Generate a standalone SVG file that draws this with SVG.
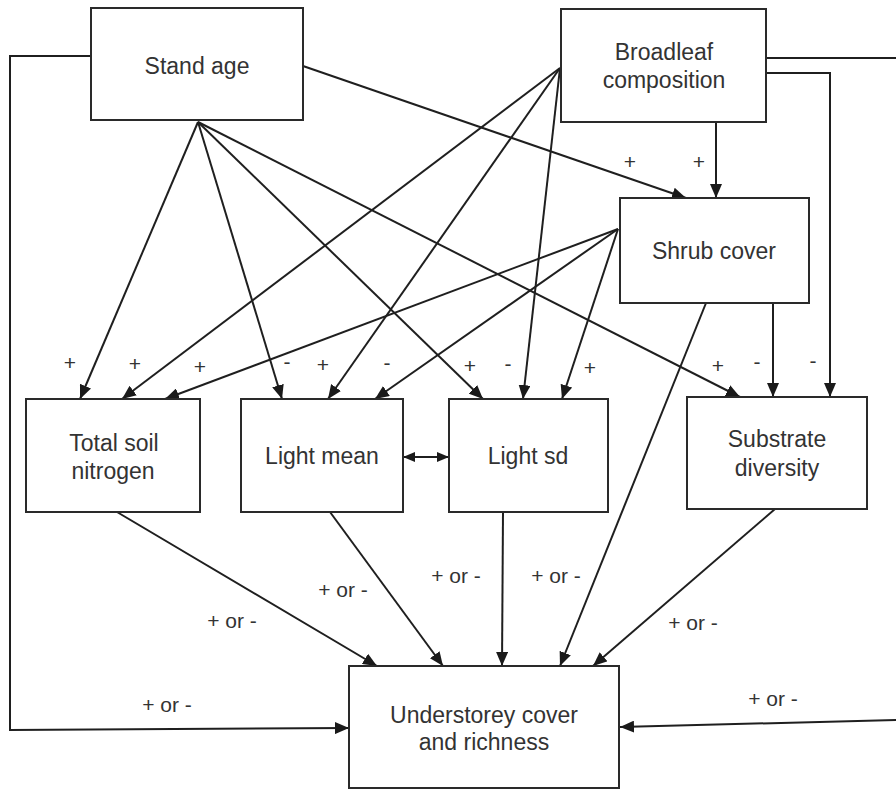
<svg xmlns="http://www.w3.org/2000/svg" width="896" height="790" viewBox="0 0 896 790">
<defs>
<marker id="ah" markerUnits="userSpaceOnUse" markerWidth="14" markerHeight="12" refX="14" refY="6" orient="auto"><path d="M0,0 L14,6 L0,12 z" fill="#1a1a1a"/></marker>
<marker id="ah2" markerUnits="userSpaceOnUse" markerWidth="12" markerHeight="10" refX="12" refY="5" orient="auto-start-reverse"><path d="M0,0 L12,5 L0,10 z" fill="#1a1a1a"/></marker>
<style>
.box{fill:#fff;stroke:#2a2a2a;stroke-width:2}
.lbl{font-family:"Liberation Sans",Arial,sans-serif;font-size:23px;fill:#333;text-anchor:middle}
.el{font-family:"Liberation Sans",Arial,sans-serif;font-size:21px;fill:#333;text-anchor:middle}
.c{fill:none;stroke:#1f1f1f;stroke-width:2}
.a{marker-end:url(#ah)}
</style>
</defs>
<rect width="896" height="790" fill="#fff"/>
<g id="connectors">
<line class="c a" x1="198" y1="122" x2="80" y2="399"/>
<line class="c a" x1="198" y1="122" x2="282" y2="399"/>
<line class="c a" x1="198" y1="122" x2="483" y2="399"/>
<line class="c a" x1="198" y1="122" x2="740" y2="397"/>
<line class="c a" x1="303" y1="66" x2="686" y2="198"/>
<line class="c a" x1="560" y1="68" x2="122" y2="399"/>
<line class="c a" x1="560" y1="68" x2="328" y2="399"/>
<line class="c a" x1="560" y1="68" x2="523" y2="399"/>
<line class="c a" x1="716" y1="122" x2="716" y2="198"/>
<polyline class="c a" points="766,73 830,73 830,397"/>
<line class="c" x1="766" y1="58" x2="897" y2="58"/>
<line class="c a" x1="897" y1="720" x2="620" y2="727"/>
<line class="c a" x1="618" y1="229" x2="165" y2="399"/>
<line class="c a" x1="618" y1="229" x2="375" y2="399"/>
<line class="c a" x1="618" y1="229" x2="562" y2="399"/>
<line class="c a" x1="773" y1="303" x2="773" y2="397"/>
<line class="c a" x1="706" y1="303" x2="560" y2="666"/>
<polyline class="c a" points="91,56 10,56 10,730 349,728"/>
<line class="c a" x1="117" y1="512" x2="377" y2="666"/>
<line class="c a" x1="330" y1="512" x2="443" y2="666"/>
<line class="c a" x1="503" y1="512" x2="502" y2="666"/>
<line class="c a" x1="775" y1="509" x2="593" y2="666"/>
<line class="c" x1="403" y1="457" x2="449" y2="457" marker-start="url(#ah2)" marker-end="url(#ah2)"/>
</g>
<g id="edge-labels">
<text class="el" x="630" y="169">+</text>
<text class="el" x="699" y="169">+</text>
<text class="el" x="70" y="370">+</text>
<text class="el" x="135" y="371">+</text>
<text class="el" x="200" y="374">+</text>
<text class="el" x="287" y="369">-</text>
<text class="el" x="323" y="372">+</text>
<text class="el" x="387" y="370">-</text>
<text class="el" x="470" y="373">+</text>
<text class="el" x="508" y="371">-</text>
<text class="el" x="590" y="375">+</text>
<text class="el" x="718" y="373">+</text>
<text class="el" x="757" y="369">-</text>
<text class="el" x="813" y="368">-</text>
<text class="el" x="343" y="597">+ or -</text>
<text class="el" x="232" y="628">+ or -</text>
<text class="el" x="167" y="712">+ or -</text>
<text class="el" x="456" y="583">+ or -</text>
<text class="el" x="556" y="583">+ or -</text>
<text class="el" x="693" y="630">+ or -</text>
<text class="el" x="773" y="706">+ or -</text>
</g>
<g id="stand-age"><rect class="box" x="91" y="8" width="212" height="112"/><text class="lbl" x="197" y="74">Stand age</text></g>
<g id="broadleaf"><rect class="box" x="561" y="9" width="205" height="113"/><text class="lbl" x="664" y="60">Broadleaf</text><text class="lbl" x="664" y="88">composition</text></g>
<g id="shrub-cover"><rect class="box" x="620" y="198" width="189" height="105"/><text class="lbl" x="714" y="259">Shrub cover</text></g>
<g id="total-soil-nitrogen"><rect class="box" x="26" y="399" width="174" height="113"/><text class="lbl" x="114" y="451">Total soil</text><text class="lbl" x="113" y="479">nitrogen</text></g>
<g id="light-mean"><rect class="box" x="241" y="399" width="162" height="113"/><text class="lbl" x="322" y="464">Light mean</text></g>
<g id="light-sd"><rect class="box" x="449" y="399" width="159" height="113"/><text class="lbl" x="528" y="464">Light sd</text></g>
<g id="substrate-diversity"><rect class="box" x="687" y="397" width="180" height="112"/><text class="lbl" x="777" y="447">Substrate</text><text class="lbl" x="777" y="476">diversity</text></g>
<g id="understorey"><rect class="box" x="349" y="666" width="270" height="122"/><text class="lbl" x="484" y="723">Understorey cover</text><text class="lbl" x="484" y="750">and richness</text></g>
</svg>
